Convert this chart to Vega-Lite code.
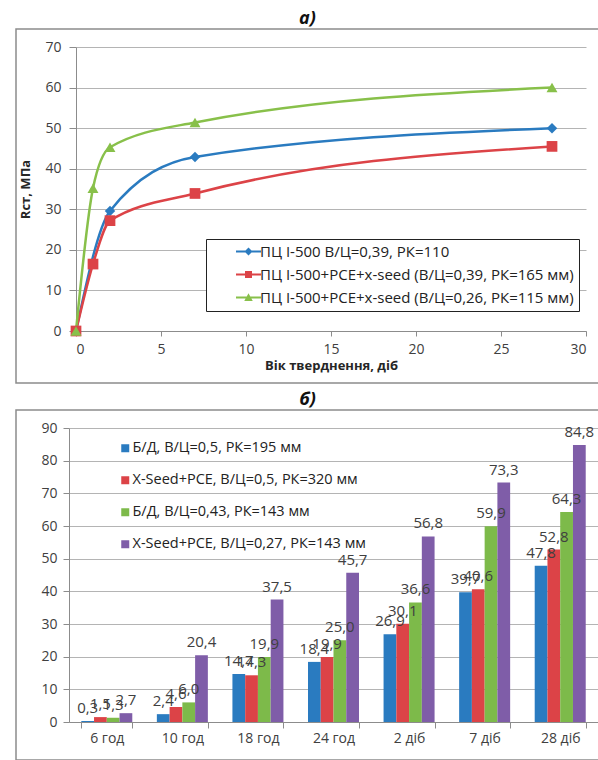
{
  "$schema": "https://vega.github.io/schema/vega-lite/v6.json",
  "padding": {"left": 15, "top": 9, "right": 0, "bottom": 0},
  "background": "white",
  "spacing": 6,
  "config": {
    "locale": {"number": {"decimal": ",", "thousands": " ", "grouping": [3], "currency": ["", ""]}},
    "font": "Open Sans",
    "view": {"stroke": "#8c8c8c", "strokeWidth": 1.5},
    "axis": {"labelFont": "Open Sans", "labelFontSize": 14, "labelColor": "#404040", "domainColor": "#8c8c8c", "tickColor": "#8c8c8c", "gridColor": "#b4b4b4", "titleFont": "Open Sans", "titleColor": "#262626"},
    "title": {"font": "Open Sans", "fontSize": 18, "fontStyle": "italic", "fontWeight": "bold", "color": "#111111", "anchor": "middle", "offset": 1}
  },
  "resolve": {"scale": {"color": "independent", "shape": "independent"}, "legend": {"color": "independent", "shape": "independent"}},
  "vconcat": [
    {
      "title": {"text": "а)"},
      "width": 583,
      "height": 354,
      "data": {"values": [
        {"mix": "ПЦ І-500 В/Ц=0,39, РК=110", "t": 0, "R": 0},
        {"mix": "ПЦ І-500 В/Ц=0,39, РК=110", "t": 2, "R": 29.6},
        {"mix": "ПЦ І-500 В/Ц=0,39, РК=110", "t": 7, "R": 42.9},
        {"mix": "ПЦ І-500 В/Ц=0,39, РК=110", "t": 28, "R": 50},
        {"mix": "ПЦ І-500+PCE+x-seed (В/Ц=0,39, РК=165 мм)", "t": 0, "R": 0},
        {"mix": "ПЦ І-500+PCE+x-seed (В/Ц=0,39, РК=165 мм)", "t": 1, "R": 16.5},
        {"mix": "ПЦ І-500+PCE+x-seed (В/Ц=0,39, РК=165 мм)", "t": 2, "R": 27.2},
        {"mix": "ПЦ І-500+PCE+x-seed (В/Ц=0,39, РК=165 мм)", "t": 7, "R": 33.9},
        {"mix": "ПЦ І-500+PCE+x-seed (В/Ц=0,39, РК=165 мм)", "t": 28, "R": 45.5},
        {"mix": "ПЦ І-500+PCE+x-seed (В/Ц=0,26, РК=115 мм)", "t": 0, "R": 0},
        {"mix": "ПЦ І-500+PCE+x-seed (В/Ц=0,26, РК=115 мм)", "t": 1, "R": 35.2},
        {"mix": "ПЦ І-500+PCE+x-seed (В/Ц=0,26, РК=115 мм)", "t": 2, "R": 45.3},
        {"mix": "ПЦ І-500+PCE+x-seed (В/Ц=0,26, РК=115 мм)", "t": 7, "R": 51.4},
        {"mix": "ПЦ І-500+PCE+x-seed (В/Ц=0,26, РК=115 мм)", "t": 28, "R": 60}
      ]},
      "encoding": {
        "x": {"field": "t", "type": "quantitative",
          "scale": {"domain": [0, 30], "range": [60, 570], "nice": false, "zero": false},
          "axis": {"values": [0, 5, 10, 15, 20, 25, 30], "offset": -52, "grid": false, "title": "Вік тверднення, діб", "titleFontWeight": "bold", "titleFontSize": 13, "tickSize": 5, "labelPadding": 6, "titlePadding": 3}},
        "y": {"field": "R", "type": "quantitative",
          "scale": {"domain": [0, 70], "range": [302, 18], "nice": false},
          "axis": {"values": [0, 10, 20, 30, 40, 50, 60, 70], "offset": -60, "grid": true, "title": "Rст, МПа", "titleFontWeight": "bold", "titleFontSize": 13, "tickSize": 7, "labelPadding": 8, "titlePadding": 12}},
        "color": {"field": "mix", "type": "nominal",
          "scale": {"domain": ["ПЦ І-500 В/Ц=0,39, РК=110", "ПЦ І-500+PCE+x-seed (В/Ц=0,39, РК=165 мм)", "ПЦ І-500+PCE+x-seed (В/Ц=0,26, РК=115 мм)"], "range": ["#2A7BC0", "#DC4347", "#88C04A"]},
          "legend": {
            "orient": "none", "legendX": 190, "legendY": 210, "title": null, "direction": "vertical",
            "strokeColor": "#222222", "fillColor": "white", "padding": 5,
            "labelFont": "Open Sans", "labelFontSize": 15, "labelColor": "#222222", "labelLimit": 420,
            "symbolSize": 100, "symbolOffset": 30, "labelOffset": 4, "rowPadding": 7, "symbolOpacity": 1, "symbolStrokeWidth": 0
          }}
      },
      "layer": [
        {"mark": {"type": "line", "interpolate": "monotone", "strokeWidth": 2.5}},
        {"transform": [{"filter": {"field": "mix", "equal": "ПЦ І-500 В/Ц=0,39, РК=110"}}],
         "mark": {"type": "point", "shape": "diamond", "filled": true, "opacity": 1, "size": 110},
         "encoding": {"color": {"value": "#2A7BC0"}}},
        {"transform": [{"filter": {"field": "mix", "equal": "ПЦ І-500+PCE+x-seed (В/Ц=0,39, РК=165 мм)"}}],
         "mark": {"type": "point", "shape": "square", "filled": true, "opacity": 1, "size": 115},
         "encoding": {"color": {"value": "#DC4347"}}},
        {"transform": [{"filter": {"field": "mix", "equal": "ПЦ І-500+PCE+x-seed (В/Ц=0,26, РК=115 мм)"}}],
         "mark": {"type": "point", "shape": "triangle-up", "filled": true, "opacity": 1, "size": 120},
         "encoding": {"color": {"value": "#88C04A"}}},
        {"mark": {"type": "point", "filled": true, "opacity": 0, "size": 100},
         "encoding": {"shape": {"field": "mix", "type": "nominal",
           "scale": {"domain": ["ПЦ І-500 В/Ц=0,39, РК=110", "ПЦ І-500+PCE+x-seed (В/Ц=0,39, РК=165 мм)", "ПЦ І-500+PCE+x-seed (В/Ц=0,26, РК=115 мм)"],
             "range": ["M-2.5,-0.22H2.5V0.22H-2.5ZM0,-0.8L0.8,0L0,0.8L-0.8,0Z", "M-2.5,-0.22H2.5V0.22H-2.5ZM-0.7,-0.7H0.7V0.7H-0.7Z", "M-2.5,-0.22H2.5V0.22H-2.5ZM0,-0.85L0.85,0.7H-0.85Z"]},
           "legend": {
            "orient": "none", "legendX": 190, "legendY": 210, "title": null, "direction": "vertical",
            "strokeColor": "#222222", "fillColor": "white", "padding": 5,
            "labelFont": "Open Sans", "labelFontSize": 15, "labelColor": "#222222", "labelLimit": 420,
            "symbolSize": 100, "symbolOffset": 30, "labelOffset": 4, "rowPadding": 7, "symbolOpacity": 1, "symbolStrokeWidth": 0
          }}}}
      ]
    },
    {
      "title": {"text": "б)"},
      "width": 583,
      "height": 350,
      "data": {"values": [
        {"cat": "6 год", "series": "Б/Д, В/Ц=0,5, РК=195 мм", "v": 0.3},
        {"cat": "6 год", "series": "X-Seed+PCE, В/Ц=0,5, РК=320 мм", "v": 1.5},
        {"cat": "6 год", "series": "Б/Д, В/Ц=0,43, РК=143 мм", "v": 1.3},
        {"cat": "6 год", "series": "X-Seed+PCE, В/Ц=0,27, РК=143 мм", "v": 2.7},
        {"cat": "10 год", "series": "Б/Д, В/Ц=0,5, РК=195 мм", "v": 2.4},
        {"cat": "10 год", "series": "X-Seed+PCE, В/Ц=0,5, РК=320 мм", "v": 4.6},
        {"cat": "10 год", "series": "Б/Д, В/Ц=0,43, РК=143 мм", "v": 6.0},
        {"cat": "10 год", "series": "X-Seed+PCE, В/Ц=0,27, РК=143 мм", "v": 20.4},
        {"cat": "18 год", "series": "Б/Д, В/Ц=0,5, РК=195 мм", "v": 14.7},
        {"cat": "18 год", "series": "X-Seed+PCE, В/Ц=0,5, РК=320 мм", "v": 14.3},
        {"cat": "18 год", "series": "Б/Д, В/Ц=0,43, РК=143 мм", "v": 19.9},
        {"cat": "18 год", "series": "X-Seed+PCE, В/Ц=0,27, РК=143 мм", "v": 37.5},
        {"cat": "24 год", "series": "Б/Д, В/Ц=0,5, РК=195 мм", "v": 18.4},
        {"cat": "24 год", "series": "X-Seed+PCE, В/Ц=0,5, РК=320 мм", "v": 19.9},
        {"cat": "24 год", "series": "Б/Д, В/Ц=0,43, РК=143 мм", "v": 25.0},
        {"cat": "24 год", "series": "X-Seed+PCE, В/Ц=0,27, РК=143 мм", "v": 45.7},
        {"cat": "2 діб", "series": "Б/Д, В/Ц=0,5, РК=195 мм", "v": 26.9},
        {"cat": "2 діб", "series": "X-Seed+PCE, В/Ц=0,5, РК=320 мм", "v": 30.1},
        {"cat": "2 діб", "series": "Б/Д, В/Ц=0,43, РК=143 мм", "v": 36.6},
        {"cat": "2 діб", "series": "X-Seed+PCE, В/Ц=0,27, РК=143 мм", "v": 56.8},
        {"cat": "7 діб", "series": "Б/Д, В/Ц=0,5, РК=195 мм", "v": 39.7},
        {"cat": "7 діб", "series": "X-Seed+PCE, В/Ц=0,5, РК=320 мм", "v": 40.6},
        {"cat": "7 діб", "series": "Б/Д, В/Ц=0,43, РК=143 мм", "v": 59.9},
        {"cat": "7 діб", "series": "X-Seed+PCE, В/Ц=0,27, РК=143 мм", "v": 73.3},
        {"cat": "28 діб", "series": "Б/Д, В/Ц=0,5, РК=195 мм", "v": 47.8},
        {"cat": "28 діб", "series": "X-Seed+PCE, В/Ц=0,5, РК=320 мм", "v": 52.8},
        {"cat": "28 діб", "series": "Б/Д, В/Ц=0,43, РК=143 мм", "v": 64.3},
        {"cat": "28 діб", "series": "X-Seed+PCE, В/Ц=0,27, РК=143 мм", "v": 84.8}
      ]},
      "encoding": {
        "x": {"field": "cat", "type": "nominal",
          "sort": ["6 год", "10 год", "18 год", "24 год", "2 діб", "7 діб", "28 діб"],
          "scale": {"range": [53, 582], "paddingInner": 0.325, "paddingOuter": 0.1625},
          "axis": {"title": null, "labelAngle": 0, "tickBand": "extent", "tickSize": 6, "labelPadding": 3, "offset": -38, "grid": false}},
        "y": {"field": "v", "type": "quantitative",
          "scale": {"domain": [0, 90], "range": [312, 18], "nice": false},
          "axis": {"values": [0, 10, 20, 30, 40, 50, 60, 70, 80, 90], "offset": -53, "tickSize": 6, "labelPadding": 6, "title": null, "grid": true}},
        "xOffset": {"field": "series", "type": "nominal",
          "sort": ["Б/Д, В/Ц=0,5, РК=195 мм", "X-Seed+PCE, В/Ц=0,5, РК=320 мм", "Б/Д, В/Ц=0,43, РК=143 мм", "X-Seed+PCE, В/Ц=0,27, РК=143 мм"],
          "scale": {"paddingInner": 0, "paddingOuter": 0}}
      },
      "layer": [
        {"mark": {"type": "bar"},
         "encoding": {"color": {"field": "series", "type": "nominal",
           "scale": {"domain": ["Б/Д, В/Ц=0,5, РК=195 мм", "X-Seed+PCE, В/Ц=0,5, РК=320 мм", "Б/Д, В/Ц=0,43, РК=143 мм", "X-Seed+PCE, В/Ц=0,27, РК=143 мм"], "range": ["#2A7BC0", "#DC4347", "#7DBA4A", "#7F5DA8"]},
           "legend": {"orient": "none", "legendX": 102, "legendY": 31, "title": null, "direction": "vertical", "symbolType": "square", "symbolSize": 64, "labelFont": "Open Sans", "labelFontSize": 14.5, "labelColor": "#222222", "labelLimit": 400, "rowPadding": 17, "labelOffset": 0, "padding": 0}}}},
        {"mark": {"type": "text", "dy": -13, "fontSize": 15, "color": "#404040", "font": "Open Sans"},
         "encoding": {"text": {"field": "v", "type": "quantitative", "format": ".1f"}}}
      ]
    }
  ]
}
